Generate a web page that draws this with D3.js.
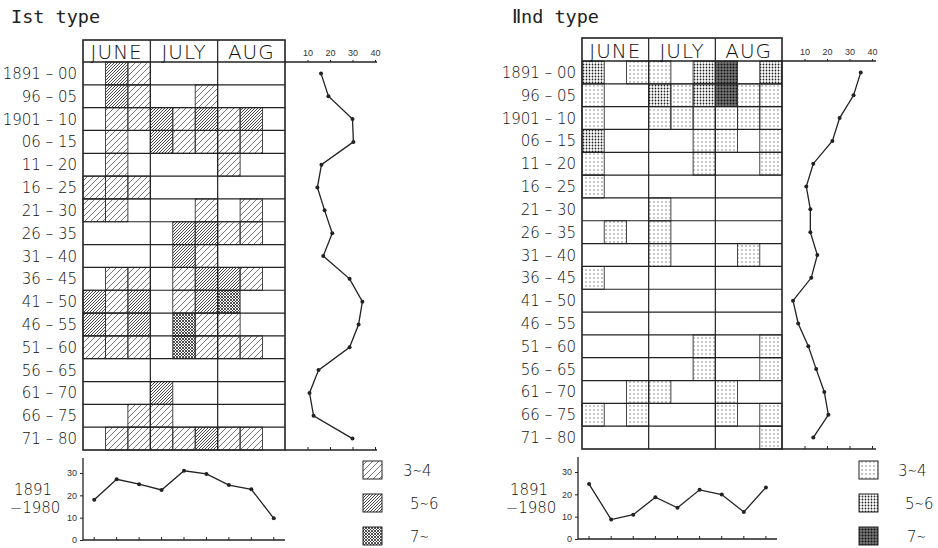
<!DOCTYPE html>
<html lang="en">
<head>
  <meta charset="UTF-8">
  <title>Ist / IInd type</title>
  <script src="https://d3js.org/d3.v7.min.js"></script>
  <style>
    body { margin: 0; background: #fff; }
    svg { display: block; font-family: "DejaVu Sans", sans-serif; }
    .title { font-family: "DejaVu Sans Mono", monospace; font-size: 18.5px; fill: #222; }
    .month { font-size: 20px; font-weight: 200; fill: #111; letter-spacing: 1px; }
    .rowlab { font-size: 15px; font-weight: 200; fill: #111; }
    .tick text { font-size: 9px; fill: #333; }
    .leg { font-size: 15px; font-weight: 200; fill: #111; }
  </style>
</head>
<body>
  <script>
    // periods (rows) and ten-day columns, June to August
    const periods = ["1891-00", "96-05", "1901-10", "06-15", "11-20", "16-25", "21-30", "26-35", "31-40",
      "36-45", "41-50", "46-55", "51-60", "56-65", "61-70", "66-75", "71-80"];
    const months = ["JUNE", "JULY", "AUG"];
    const columns = ["Jun1", "Jun2", "Jun3", "Jul1", "Jul2", "Jul3", "Aug1", "Aug2", "Aug3"];
    const classes = ["3∼4", "5∼6", "7∼"];

    // class of each cell: 0 none, 1 = 3~4, 2 = 5~6, 3 = 7~
    const type1Cells = [
      [0, 2, 1, 0, 0, 0, 0, 0, 0],
      [0, 2, 1, 0, 0, 1, 0, 0, 0],
      [0, 1, 1, 2, 1, 2, 1, 2, 0],
      [0, 1, 0, 2, 1, 1, 1, 1, 0],
      [0, 1, 0, 0, 0, 0, 1, 0, 0],
      [1, 1, 1, 0, 0, 0, 0, 0, 0],
      [1, 1, 0, 0, 0, 1, 0, 1, 0],
      [0, 0, 0, 0, 2, 2, 1, 1, 0],
      [0, 0, 0, 0, 2, 1, 0, 0, 0],
      [0, 1, 1, 0, 1, 2, 2, 1, 0],
      [2, 1, 2, 0, 1, 2, 3, 0, 0],
      [2, 1, 2, 0, 3, 1, 1, 0, 0],
      [1, 1, 1, 0, 3, 1, 1, 1, 0],
      [0, 0, 0, 0, 0, 0, 0, 0, 0],
      [0, 0, 0, 2, 0, 0, 0, 0, 0],
      [0, 0, 1, 1, 0, 0, 0, 0, 0],
      [0, 1, 1, 1, 1, 2, 1, 1, 0]
    ];
    const type2Cells = [
      [2, 0, 1, 1, 0, 2, 3, 0, 2],
      [1, 0, 0, 2, 1, 2, 3, 1, 1],
      [1, 0, 0, 1, 1, 1, 1, 1, 1],
      [2, 0, 0, 0, 0, 1, 1, 0, 1],
      [1, 0, 0, 0, 0, 1, 0, 0, 1],
      [1, 0, 0, 0, 0, 0, 0, 0, 0],
      [0, 0, 0, 1, 0, 0, 0, 0, 0],
      [0, 1, 0, 1, 0, 0, 0, 0, 0],
      [0, 0, 0, 1, 0, 0, 0, 1, 0],
      [1, 0, 0, 0, 0, 0, 0, 0, 0],
      [0, 0, 0, 0, 0, 0, 0, 0, 0],
      [0, 0, 0, 0, 0, 0, 0, 0, 0],
      [0, 0, 0, 0, 0, 1, 0, 0, 1],
      [0, 0, 0, 0, 0, 1, 0, 0, 1],
      [0, 0, 1, 1, 0, 0, 1, 0, 0],
      [1, 0, 1, 0, 0, 0, 1, 0, 1],
      [0, 0, 0, 0, 0, 0, 0, 0, 1]
    ];

    // frequency per period (right-hand curves)
    const type1Periods = [16, 19.3, 30, 30.4, 16.2, 14.4, 17.6, 21, 17, 28.7, 34.4, 32.7, 28.7, 14.9, 10.9, 12.7, 30];
    const type2Periods = [35, 31.8, 25.6, 22.4, 13.9, 10.8, 12.6, 12.6, 15.7, 13, 4.9, 7.2, 11.7, 15.2, 18.8, 20.6, 13.9];

    // frequency per ten-day column, 1891-1980 (bottom curves)
    const type1Columns = [18, 27.2, 25, 22.4, 31, 29.6, 24.6, 22.7, 9.7];
    const type2Columns = [24.6, 8.7, 10.9, 18.7, 14, 22, 19.9, 12.1, 23.1];

    const periodTicks = [10, 20, 30, 40];
    const columnTicks = [0, 10, 20, 30];

    const width = 938, height = 548;
    const ink = "#222";

    const svg = d3.select("body").append("svg")
      .attr("width", width)
      .attr("height", height);

    svg.append("rect").attr("width", width).attr("height", height).attr("fill", "#fff");

    // fill patterns: hatching for the Ist type, stippling for the IInd type
    const defs = svg.append("defs");
    function hatch(id, size, color, sw, cross) {
      const p = defs.append("pattern").attr("id", id)
        .attr("patternUnits", "userSpaceOnUse")
        .attr("width", size).attr("height", size);
      p.append("path")
        .attr("d", `M-1,1 l2,-2 M0,${size} l${size},-${size} M${size - 1},${size + 1} l2,-2`)
        .attr("stroke", color).attr("stroke-width", sw);
      if (cross) {
        p.append("path")
          .attr("d", `M-1,${size - 1} l2,2 M0,0 l${size},${size} M${size - 1},-1 l2,2`)
          .attr("stroke", color).attr("stroke-width", sw);
      }
    }
    function dots(id, size, r, color, bg) {
      const p = defs.append("pattern").attr("id", id)
        .attr("patternUnits", "userSpaceOnUse")
        .attr("width", size).attr("height", size);
      if (bg) p.append("rect").attr("width", size).attr("height", size).attr("fill", bg);
      p.append("circle").attr("cx", size / 2).attr("cy", size / 2).attr("r", r).attr("fill", color);
    }
    hatch("h1", 6, "#555", 0.8, false);
    hatch("h2", 3, "#333", 0.9, false);
    hatch("h3", 3, "#222", 0.8, true);
    dots("d1", 4, 0.7, "#666");
    dots("d2", 3, 0.9, "#222");
    dots("d3", 3, 1.0, "#111", "#777");

    const panels = [
      {
        title: "Ist type", tx: 11, ty: 23, cells: type1Cells, periodVals: type1Periods, colVals: type1Columns,
        gx: [83, 285], top: 40, head: 62, bottom: 450, px: [285, 375], pEnd: 377,
        bx: [83, 285], by: [540, 473], byTop: 458, pats: ["h1", "h2", "h3"],
        legX: 363, legLabX: [403, 410, 410], labX: 33
      },
      {
        title: "Ⅱnd type", tx: 512, ty: 23, cells: type2Cells, periodVals: type2Periods, colVals: type2Columns,
        gx: [582, 782], top: 38, head: 61, bottom: 449, px: [782, 872], pEnd: 876,
        bx: [578, 777], by: [539, 472], byTop: 457, pats: ["d1", "d2", "d3"],
        legX: 859, legLabX: [898, 905, 907], labX: 529
      }
    ];

    panels.forEach(p => {
      const g = svg.append("g");

      g.append("text").attr("class", "title")
        .attr("x", p.tx).attr("y", p.ty).text(p.title);

      const x = d3.scaleBand().domain(columns).range(p.gx);
      const y = d3.scaleBand().domain(periods).range([p.head, p.bottom]);
      const xm = d3.scaleBand().domain(months).range(p.gx);
      const xv = d3.scaleLinear().domain([0, 40]).range(p.px);

      // hatched cells
      const cells = [];
      p.cells.forEach((row, i) => row.forEach((c, j) => {
        if (c > 0) cells.push({ period: periods[i], col: columns[j], c });
      }));
      g.append("g").selectAll("rect")
        .data(cells)
        .join("rect")
        .attr("x", d => x(d.col))
        .attr("y", d => y(d.period))
        .attr("width", x.bandwidth())
        .attr("height", y.bandwidth())
        .attr("fill", d => `url(#${p.pats[d.c - 1]})`)
        .attr("stroke", "#333")
        .attr("stroke-width", 0.9);

      // row lines
      g.append("g").selectAll("line")
        .data(periods.slice(1))
        .join("line")
        .attr("x1", p.gx[0]).attr("x2", p.gx[1])
        .attr("y1", d => y(d)).attr("y2", d => y(d))
        .attr("stroke", ink).attr("stroke-width", 1.2);

      // month dividers
      g.append("g").selectAll("line")
        .data(months.slice(1))
        .join("line")
        .attr("x1", d => xm(d)).attr("x2", d => xm(d))
        .attr("y1", p.top).attr("y2", p.bottom)
        .attr("stroke", ink).attr("stroke-width", 1.2);

      // frame and header
      g.append("rect")
        .attr("x", p.gx[0]).attr("y", p.top)
        .attr("width", p.gx[1] - p.gx[0]).attr("height", p.bottom - p.top)
        .attr("fill", "none").attr("stroke", ink).attr("stroke-width", 1.6);
      g.append("line")
        .attr("x1", p.gx[0]).attr("x2", p.gx[1])
        .attr("y1", p.head).attr("y2", p.head)
        .attr("stroke", ink).attr("stroke-width", 1.5);

      g.append("g").selectAll("text")
        .data(months)
        .join("text")
        .attr("class", "month")
        .attr("x", d => xm(d) + xm.bandwidth() / 2)
        .attr("y", p.head - 3)
        .attr("text-anchor", "middle")
        .text(d => d);

      g.append("g").selectAll("text")
        .data(periods)
        .join("text")
        .attr("class", "rowlab")
        .attr("x", p.gx[0] - 6)
        .attr("y", d => y(d) + y.bandwidth() / 2 + 5.5)
        .attr("text-anchor", "end")
        .text(d => d.replace("-", " – "));

      // period curve with its axes
      const topAxis = g.append("g")
        .attr("transform", `translate(0,${p.head})`)
        .call(d3.axisTop(xv).tickValues(periodTicks).tickSize(2).tickPadding(4));
      topAxis.select(".domain").remove();
      topAxis.selectAll(".tick line").attr("stroke", ink);
      g.append("line")
        .attr("x1", p.gx[1]).attr("x2", p.pEnd)
        .attr("y1", p.head).attr("y2", p.head)
        .attr("stroke", ink).attr("stroke-width", 1.3);

      const botAxis = g.append("g")
        .attr("transform", `translate(0,${p.bottom})`)
        .call(d3.axisTop(xv).tickValues(periodTicks).tickSize(3).tickFormat(""));
      botAxis.select(".domain").remove();
      botAxis.selectAll(".tick line").attr("stroke", ink);
      g.append("line")
        .attr("x1", p.gx[1]).attr("x2", p.pEnd)
        .attr("y1", p.bottom).attr("y2", p.bottom)
        .attr("stroke", ink).attr("stroke-width", 1.3);

      const pts = p.periodVals.map((v, i) => [xv(v), y(periods[i]) + y.bandwidth() / 2]);
      g.append("path")
        .attr("d", d3.line()(pts))
        .attr("fill", "none").attr("stroke", ink).attr("stroke-width", 1.3);
      g.append("g").selectAll("circle")
        .data(pts)
        .join("circle")
        .attr("cx", d => d[0]).attr("cy", d => d[1]).attr("r", 2)
        .attr("fill", ink);

      // column curve 1891-1980
      const bx = d3.scaleBand().domain(columns).range(p.bx);
      const by = d3.scaleLinear().domain([0, 30]).range(p.by);

      const yAxis = g.append("g")
        .attr("transform", `translate(${p.bx[0]},0)`)
        .call(d3.axisLeft(by).tickValues(columnTicks).tickSize(3).tickPadding(3));
      yAxis.select(".domain").remove();
      yAxis.selectAll(".tick line").attr("stroke", ink);
      g.append("line")
        .attr("x1", p.bx[0]).attr("x2", p.bx[0])
        .attr("y1", p.byTop).attr("y2", by(0))
        .attr("stroke", ink).attr("stroke-width", 1.3);

      const xAxis = g.append("g")
        .attr("transform", `translate(0,${by(0)})`)
        .call(d3.axisTop(bx).tickSize(3).tickFormat(""));
      xAxis.select(".domain").remove();
      xAxis.selectAll(".tick line").attr("stroke", ink);
      g.append("line")
        .attr("x1", p.bx[0]).attr("x2", p.bx[1])
        .attr("y1", by(0)).attr("y2", by(0))
        .attr("stroke", ink).attr("stroke-width", 1.3);

      const cpts = p.colVals.map((v, i) => [bx(columns[i]) + bx.bandwidth() / 2, by(v)]);
      g.append("path")
        .attr("d", d3.line()(cpts))
        .attr("fill", "none").attr("stroke", ink).attr("stroke-width", 1.3);
      g.append("g").selectAll("circle")
        .data(cpts)
        .join("circle")
        .attr("cx", d => d[0]).attr("cy", d => d[1]).attr("r", 2)
        .attr("fill", ink);

      g.append("text").attr("class", "rowlab")
        .attr("x", p.labX).attr("y", 495).attr("text-anchor", "middle").text("1891");
      g.append("text").attr("class", "rowlab")
        .attr("x", p.labX + 2).attr("y", 513).attr("text-anchor", "middle").text("−1980");

      // legend
      classes.forEach((c, i) => {
        const ly = 461 + i * 33;
        g.append("rect")
          .attr("x", p.legX).attr("y", ly)
          .attr("width", 19).attr("height", 18)
          .attr("fill", `url(#${p.pats[i]})`)
          .attr("stroke", ink).attr("stroke-width", 1);
        g.append("text").attr("class", "leg")
          .attr("x", p.legLabX[i]).attr("y", ly + 15)
          .text(c);
      });
    });
  </script>
</body>
</html>
